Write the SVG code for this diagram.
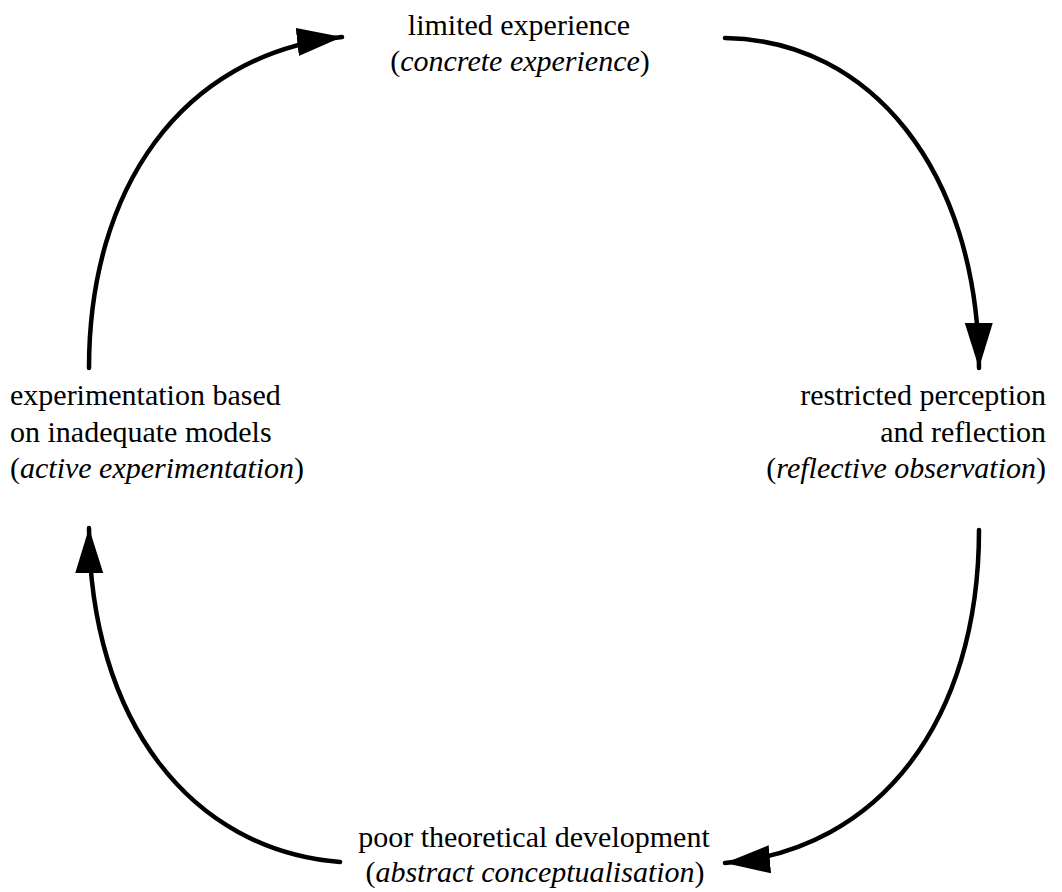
<svg xmlns="http://www.w3.org/2000/svg" width="1062" height="892" viewBox="0 0 1062 892">
<style>
text{font-size:30px;fill:#000}
.i{font-style:italic}
.c{fill:none;stroke:#000;stroke-width:4.5;stroke-linecap:round}
</style>
<defs>
<marker id="ah" markerUnits="userSpaceOnUse" markerWidth="50" markerHeight="30" refX="45" refY="14" orient="auto">
<path d="M0,0 L45,14 L0,28 Z" fill="#000"/>
</marker>
</defs>
<rect width="1062" height="892" fill="#fff"/>
<g id="connectors">
<path class="c" d="M89,368 C89,190 180,55 342,37" marker-end="url(#ah)"/>
<path class="c" d="M725,38 C870,40 978,170 979,368" marker-end="url(#ah)"/>
<path class="c" d="M979,530 C979,720 880,850 725,863" marker-end="url(#ah)"/>
<path class="c" d="M340,862 C190,850 90,720 89,528" marker-end="url(#ah)"/>
</g>
<g font-family="Liberation Serif, Times New Roman, serif">
<g id="node-top">
<text x="519" y="35" text-anchor="middle">limited experience</text>
<text x="520" y="71" text-anchor="middle">(<tspan class="i">concrete experience</tspan>)</text>
</g>
<g id="node-right">
<text x="1046" y="405" text-anchor="end">restricted perception</text>
<text x="1046" y="442" text-anchor="end">and reflection</text>
<text x="1046" y="478" text-anchor="end">(<tspan class="i">reflective observation</tspan>)</text>
</g>
<g id="node-bottom">
<text x="534" y="847" text-anchor="middle">poor theoretical development</text>
<text x="535" y="882" text-anchor="middle">(<tspan class="i">abstract conceptualisation</tspan>)</text>
</g>
<g id="node-left">
<text x="10" y="405">experimentation based</text>
<text x="10" y="442">on inadequate models</text>
<text x="10" y="478">(<tspan class="i">active experimentation</tspan>)</text>
</g>
</g>
</svg>
